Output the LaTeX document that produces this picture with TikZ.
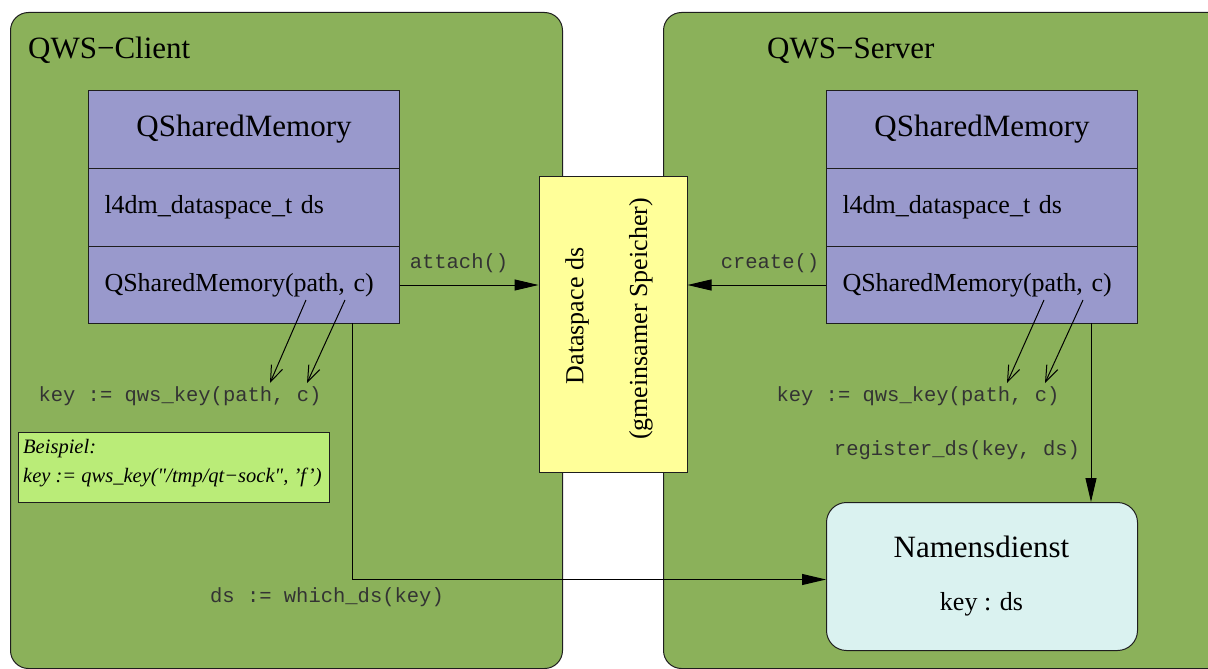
\documentclass[tikz,border=0pt]{standalone}
\usepackage{fontspec}
\setmainfont{Liberation Serif}
\setmonofont{Liberation Mono}
\usetikzlibrary{arrows.meta,calc}
\definecolor{panelgreen}{RGB}{139,177,90}
\definecolor{classpurple}{RGB}{153,153,204}
\definecolor{dsyellow}{RGB}{255,255,153}
\definecolor{nscyan}{RGB}{218,242,240}
\definecolor{bspgreen}{RGB}{186,236,120}
\definecolor{edge}{RGB}{30,30,30}
\tikzset{
  panel/.style={draw=edge, fill=panelgreen, rounded corners=18pt, line width=1pt, inner sep=0pt},
  compart/.style={draw=edge, fill=classpurple, line width=1pt, minimum height=78pt,
                  inner xsep=16pt, inner ysep=0pt, text width=279pt, anchor=north west},
  big/.style={font=\fontsize{31}{36}\selectfont},
  mid/.style={font=\fontsize{26}{30}\selectfont},
  code/.style={font=\ttfamily\fontsize{20.5}{24}\selectfont, inner sep=0pt, text=black!80},
  ital/.style={font=\itshape\fontsize{20.5}{24}\selectfont, inner sep=0pt},
  conn/.style={line width=1pt, draw=black},
  fillarrow/.style={conn, -{Triangle[length=24pt,width=11pt]}},
  openarrow/.style={conn, -{Straight Barb[length=16pt,width=12pt]}},
}
\begin{document}
\begin{tikzpicture}[x=1pt,y=-1pt]
\useasboundingbox (0,0) rectangle (1208,669);
\clip (0,0) rectangle (1208,669);
\fill[white] (0,0) rectangle (1208,669);

% panels
\node[panel, minimum width=552pt, minimum height=656pt, anchor=north west] (client) at (10,12) {};
\node[panel, minimum width=580pt, minimum height=656pt, anchor=north west] (server) at (663,12) {};
\node[big, anchor=base west, inner sep=0pt] (clientlbl) at (28,59) {QWS−Client};
\node[big, anchor=base west, inner sep=0pt] (serverlbl) at (767,59) {QWS−Server};

% client class box
\node[compart, big, align=center] (cTitle) at (88,90) {QSharedMemory};
\node[compart, mid, align=left] (cAttr) at (88,168) {l4dm\_dataspace\_t ds};
\node[compart, mid, align=left, minimum height=77pt] (cOp) at (88,246) {QSharedMemory(path, c)};

% server class box
\node[compart, big, align=center] (sTitle) at (826,90) {QSharedMemory};
\node[compart, mid, align=left] (sAttr) at (826,168) {l4dm\_dataspace\_t ds};
\node[compart, mid, align=left, minimum height=77pt] (sOp) at (826,246) {QSharedMemory(path, c)};

% dataspace
\node[draw=edge, fill=dsyellow, line width=1pt, minimum width=148pt, minimum height=296pt,
      anchor=north west, inner sep=0pt] (ds) at (538.5,176) {};
\node[mid, rotate=90, inner sep=0pt] (dsname) at (577,316) {Dataspace ds};
\node[mid, rotate=90, inner sep=0pt] (dsdesc) at (641,319) {(gmeinsamer Speicher)};

% attach / create
\draw[fillarrow] (cOp.east) -- (cOp.east -| ds.west);
\node[code] (attachlbl) at (459,263) {attach()};
\draw[fillarrow] (sOp.west) -- (sOp.west -| ds.east);
\node[code] (createlbl) at (770,263) {create()};

% key labels
\node[code] (ckey) at (180,396) {key := qws\_key(path, c)};
\node[code] (skey) at (918,396) {key := qws\_key(path, c)};
\coordinate (c1s) at (306,300); \coordinate (c1e) at (270,383);
\coordinate (c2s) at (345,300); \coordinate (c2e) at (307,383);
\coordinate (s1s) at (1044,300); \coordinate (s1e) at (1007,383);
\coordinate (s2s) at (1083,300); \coordinate (s2e) at (1045,383);
\draw[openarrow] (c1s) -- (c1e);
\draw[openarrow] (c2s) -- (c2e);
\draw[openarrow] (s1s) -- (s1e);
\draw[openarrow] (s2s) -- (s2e);

% Beispiel
\node[draw=edge, fill=bspgreen, line width=1pt, minimum width=311pt, minimum height=70pt,
      anchor=north west, inner sep=0pt] (bsp) at (17.5,432) {};
\node[ital, anchor=base west] (bsp1) at (23,453) {Beispiel:};
\node[ital, anchor=base west] (bsp2) at (23,482) {key := qws\_key(\textquotedbl/tmp/qt−sock\textquotedbl, 'f')};

% Namensdienst
\node[draw=edge, fill=nscyan, line width=1pt, rounded corners=20pt, minimum width=311pt,
      minimum height=148pt, anchor=north west, inner sep=0pt] (ns) at (826,502) {};
\node[big, anchor=base, inner sep=0pt] (nstitle) at (981.5,557) {Namensdienst};
\node[mid, anchor=base, inner sep=0pt] (nskey) at (981.5,610) {key : ds};

% which_ds
\coordinate (cdown) at (352,323);
\draw[fillarrow] (cdown) |- ($(ns.west)+(0,3)$);
\node[code] (whichlbl) at (327,597) {ds := which\_ds(key)};

% register_ds
\coordinate (sdown) at (1091,323);
\draw[fillarrow] (sdown) -- (sdown |- ns.north);
\node[code] (reglbl) at (957,450) {register\_ds(key, ds)};
\end{tikzpicture}
\end{document}
